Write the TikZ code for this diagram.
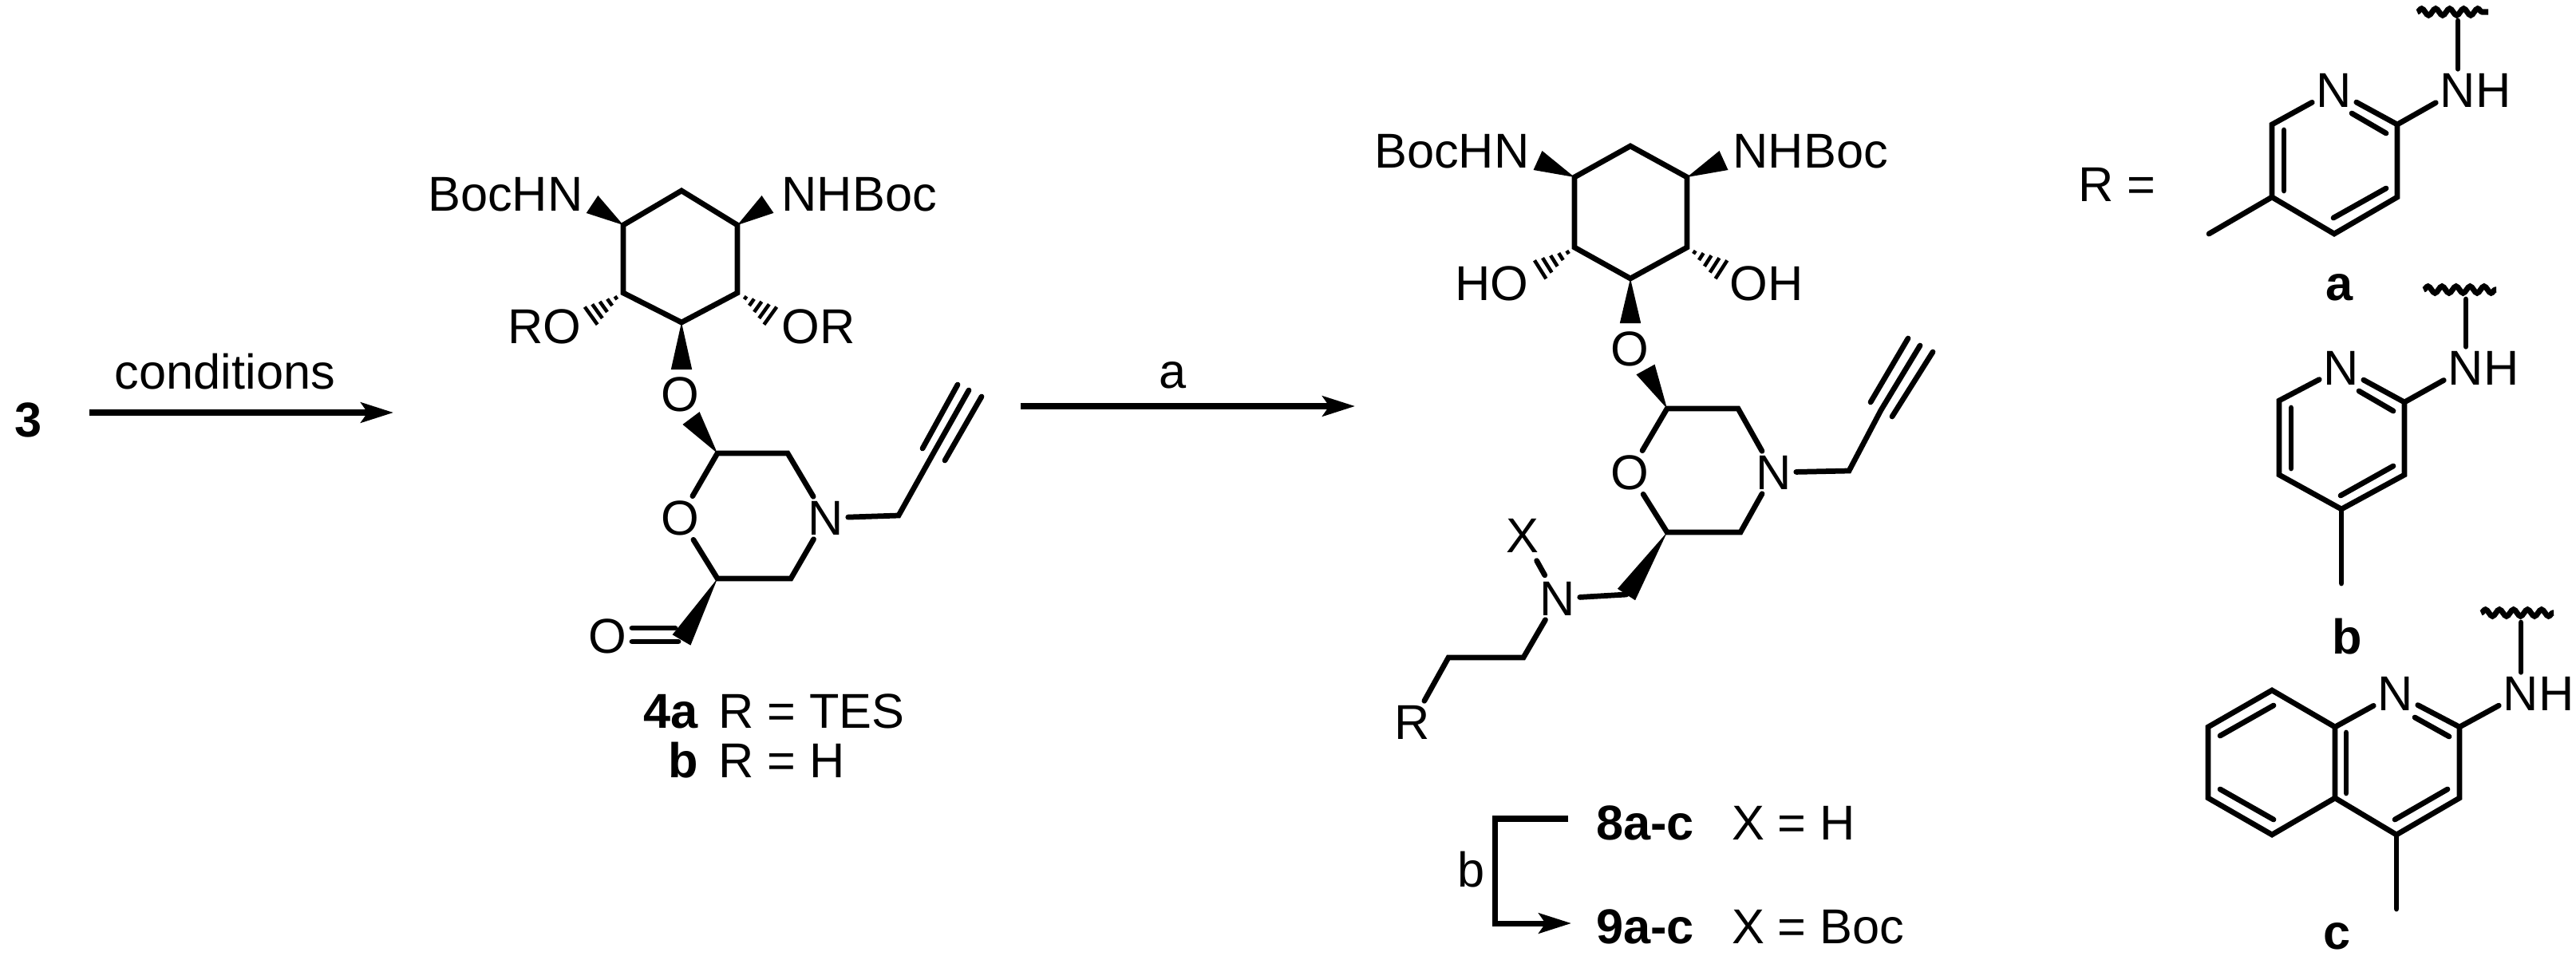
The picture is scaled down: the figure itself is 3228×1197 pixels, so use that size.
\documentclass[tikz,border=0pt]{standalone}
\usepackage{fontspec}
\setmainfont{Liberation Sans}
\usetikzlibrary{calc,arrows.meta,decorations.pathmorphing}
\newcommand{\wedgeb}[3][0.33cm]{\fill ($(#2)$) -- ($(#3)!#1!90:(#2)$) -- ($(#3)!#1!-90:(#2)$) -- cycle;}
\newcommand{\hashb}[2]{\foreach \t/\w in {0.08/0.06cm,0.28/0.13cm,0.48/0.2cm,0.68/0.27cm,0.88/0.34cm}{\draw[hash] ($(#1)!\t!(#2)!\w!90:(#2)$) -- ($(#1)!\t!(#2)!\w!-90:(#2)$);}}
\tikzset{
  txt/.style={font=\fontsize{43.6}{50}\selectfont,inner sep=0pt,outer sep=0pt},
  atom/.style={txt,inner sep=4pt},
  tail/.style={txt,xshift=-4pt,anchor=base west},
  head/.style={txt,xshift=4pt,anchor=base east},
  lab/.style={txt,font=\fontsize{43.6}{50}\selectfont\bfseries},
  bond/.style={line width=4.8pt,line cap=round,line join=miter},
  hash/.style={line width=3.2pt},
  rxn/.style={line width=5pt,-{Stealth[length=29pt,width=18pt,inset=6pt]}},
  squig/.style={line width=5pt,decorate,decoration={snake,amplitude=3pt,segment length=12.5pt}}
}
\begin{document}
\begin{tikzpicture}[x=0.025cm,y=-0.025cm]
\useasboundingbox (0,0) rectangle (3228,1197);

% ---- left: 3 -> 4
\node[lab] (three) at (36,526) {3};
\coordinate (a1s) at (112,517);
\coordinate (a1e) at (493,517);
\draw[rxn] (a1s) -- (a1e);
\node[txt] (cond) at (282,466) {conditions};

% compound 4
\coordinate (pT) at (854,239);
\coordinate (pLT) at (781,282);
\coordinate (pLB) at (781,367);
\coordinate (pB) at (854,404);
\coordinate (pRB) at (924,367);
\coordinate (pRT) at (924,282);
\draw[bond] (pT) -- (pLT) -- (pLB) -- (pB) -- (pRB) -- (pRT) -- cycle;
\coordinate (pNL) at (742,256);
\coordinate (pNR) at (962,256);
\wedgeb{pLT}{pNL}
\wedgeb{pRT}{pNR}
\node[atom,anchor=base east] (pNHl) at (736,264) {N};
\node[head] (pBocl) at (pNHl.base west) {BocH};
\node[atom,anchor=base west] (pNHr) at (974,264) {N};
\node[tail] (pBocr) at (pNHr.base east) {HBoc};
\coordinate (pOLw) at (775,371);
\coordinate (pOLe) at (736,399);
\coordinate (pORw) at (931,371);
\coordinate (pORe) at (970,399);
\hashb{pOLw}{pOLe}
\hashb{pORw}{pORe}
\node[atom,anchor=base east] (pOl) at (734,430) {O};
\node[head] (pRl) at (pOl.base west) {R};
\node[atom,anchor=base west] (pOr) at (974,430) {O};
\node[tail] (pRr) at (pOr.base east) {R};
\node[atom] (pOg) at (852,494) {O};
\coordinate (pWg) at (854,463);
\wedgeb{pB}{pWg}
\coordinate (pC1) at (899,568);
\coordinate (pWh) at (866,524);
\wedgeb{pC1}{pWh}
\coordinate (pC2) at (987,568);
\node[atom] (pN) at (1035,649) {N};
\coordinate (pC3) at (991,725);
\coordinate (pC4) at (899,725);
\node[atom] (pOr2) at (852,649) {O};
\draw[bond] (pC1) -- (pC2) -- (pN) -- (pC3) -- (pC4) -- (pOr2) -- (pC1);
\coordinate (pP1) at (1126,646);
\coordinate (pP2) at (1169,569);
\coordinate (pP3) at (1214,489);
\coordinate (pP2a) at (1156,562);
\coordinate (pP3a) at (1200,482);
\coordinate (pP2b) at (1184,577);
\coordinate (pP3b) at (1230,497);
\draw[bond] (pN) -- (pP1) -- (pP2) -- (pP3);
\draw[bond] (pP2a) -- (pP3a);
\draw[bond] (pP2b) -- (pP3b);
\coordinate (pCHO) at (854,802);
\wedgeb{pC4}{pCHO}
\node[atom] (pOald) at (761,797) {O};
\coordinate (pD1) at (792,787);
\coordinate (pD2) at (846,787);
\coordinate (pD3) at (792,804);
\coordinate (pD4) at (850,804);
\draw[bond] (pD1) -- (pD2);
\draw[bond] (pD3) -- (pD4);
\node[lab,anchor=base east] (l4a) at (875,912) {4a};
\node[txt,anchor=base west] (t4a) at (900,912) {R = TES};
\node[lab,anchor=base east] (l4b) at (875,974) {b};
\node[txt,anchor=base west] (t4b) at (900,974) {R = H};

% ---- arrow a
\coordinate (a2s) at (1279,509);
\coordinate (a2e) at (1698,509);
\draw[rxn] (a2s) -- (a2e);
\node[txt] (cA) at (1470,470) {a};

% compound 8/9
\coordinate (qT) at (2043,183);
\coordinate (qLT) at (1973,222);
\coordinate (qLB) at (1973,310);
\coordinate (qB) at (2043,349);
\coordinate (qRB) at (2114,310);
\coordinate (qRT) at (2114,222);
\draw[bond] (qT) -- (qLT) -- (qLB) -- (qB) -- (qRB) -- (qRT) -- cycle;
\coordinate (qNL) at (1927,201);
\coordinate (qNR) at (2160,201);
\wedgeb{qLT}{qNL}
\wedgeb{qRT}{qNR}
\node[atom,anchor=base east] (qNHl) at (1922,210) {N};
\node[head] (qBocl) at (qNHl.base west) {BocH};
\node[atom,anchor=base west] (qNHr) at (2166,210) {N};
\node[tail] (qBocr) at (qNHr.base east) {HBoc};
\coordinate (qOLw) at (1968,314);
\coordinate (qOLe) at (1925,341);
\coordinate (qORw) at (2120,314);
\coordinate (qORe) at (2162,341);
\hashb{qOLw}{qOLe}
\hashb{qORw}{qORe}
\node[atom,anchor=base east] (qOl) at (1921,376) {O};
\node[head] (qHl) at (qOl.base west) {H};
\node[atom,anchor=base west] (qOr) at (2162,376) {O};
\node[tail] (qHr) at (qOr.base east) {H};
\node[atom] (qOg) at (2042,437) {O};
\coordinate (qWg) at (2043,405);
\wedgeb{qB}{qWg}
\coordinate (qC1) at (2089,512);
\coordinate (qWh) at (2062,463);
\wedgeb{qC1}{qWh}
\coordinate (qC2) at (2178,512);
\node[atom] (qN) at (2223,592) {N};
\coordinate (qC3) at (2181,667);
\coordinate (qC4) at (2089,667);
\node[atom] (qOr2) at (2042,592) {O};
\draw[bond] (qC1) -- (qC2) -- (qN) -- (qC3) -- (qC4) -- (qOr2) -- (qC1);
\coordinate (qP1) at (2317,590);
\coordinate (qP2) at (2357,514);
\coordinate (qP3) at (2406,433);
\coordinate (qP2a) at (2344,504);
\coordinate (qP3a) at (2391,424);
\coordinate (qP2b) at (2371,522);
\coordinate (qP3b) at (2422,441);
\draw[bond] (qN) -- (qP1) -- (qP2) -- (qP3);
\draw[bond] (qP2a) -- (qP3a);
\draw[bond] (qP2b) -- (qP3b);
\coordinate (qCH) at (2038,745);
\wedgeb{qC4}{qCH}
\node[atom] (qNx) at (1952,750) {N};
\coordinate (qS1) at (1909,824);
\coordinate (qS2) at (1815,824);
\node[atom] (qR) at (1770,905) {R};
\node[atom] (qX) at (1908,671) {X};
\draw[bond] (qCH) -- (qNx) -- (qS1) -- (qS2) -- (qR);
\draw[bond,shorten >=4pt,shorten <=2pt] (qNx) -- (qX);
% bracket arrow
\coordinate (br1) at (1965,1026);
\coordinate (br2) at (1873,1026);
\coordinate (br3) at (1873,1157);
\coordinate (br4) at (1969,1157);
\draw[rxn,line join=miter] (br1) -- (br2) -- (br3) -- (br4);
\node[txt] (cB) at (1844,1090) {b};
\node[lab,anchor=base west] (l8) at (2000,1052) {8a-c};
\node[txt,anchor=base west] (t8) at (2170,1052) {X = H};
\node[lab,anchor=base west] (l9) at (2000,1182) {9a-c};
\node[txt,anchor=base west] (t9) at (2170,1182) {X = Boc};

% ---- R =
\node[txt,anchor=base west] (req) at (2604,252) {R =};

% R group a
\node[atom] (aN) at (2925,113) {N};
\coordinate (aC2) at (3004,156);
\coordinate (aC3) at (3004,247);
\coordinate (aC4) at (2925,293);
\coordinate (aC5) at (2847,247);
\coordinate (aC6) at (2847,156);
\coordinate (aMe) at (2768,293);
\draw[bond] (aN) -- (aC2) -- (aC3) -- (aC4) -- (aC5) -- (aC6) -- (aN);
\draw[bond] (aC5) -- (aMe);
\coordinate (ai1) at (2862,163);
\coordinate (ai2) at (2862,239);
\coordinate (ai3) at (2990,236);
\coordinate (ai4) at (2924,273);
\coordinate (ai5) at (2947,142);
\coordinate (ai6) at (2990,167);
\draw[bond] (ai1) -- (ai2);
\draw[bond] (ai3) -- (ai4);
\draw[bond] (ai5) -- (ai6);
\node[atom,anchor=center] (aNH) at (3080,113) {N};
\node[tail] (aH) at (aNH.base east) {H};
\draw[bond] (aC2) -- (aNH);
\coordinate (asq1) at (3029,15);
\coordinate (asq2) at (3118,15);
\coordinate (asqm) at (3080,26);
\draw[squig] (asq1) -- (asq2);
\draw[bond] (asqm) -- (aNH);
\node[lab] (la) at (2932,360) {a};

% R group b
\node[atom] (bN) at (2934,461) {N};
\coordinate (bC2) at (3013,504);
\coordinate (bC3) at (3013,595);
\coordinate (bC4) at (2934,638);
\coordinate (bC5) at (2856,595);
\coordinate (bC6) at (2856,502);
\coordinate (bMe) at (2934,731);
\draw[bond] (bN) -- (bC2) -- (bC3) -- (bC4) -- (bC5) -- (bC6) -- (bN);
\draw[bond] (bC4) -- (bMe);
\coordinate (bi1) at (2871,511);
\coordinate (bi2) at (2871,587);
\coordinate (bi3) at (2999,584);
\coordinate (bi4) at (2933,621);
\coordinate (bi5) at (2956,490);
\coordinate (bi6) at (2999,515);
\draw[bond] (bi1) -- (bi2);
\draw[bond] (bi3) -- (bi4);
\draw[bond] (bi5) -- (bi6);
\node[atom] (bNH) at (3090,461) {N};
\node[tail] (bH) at (bNH.base east) {H};
\draw[bond] (bC2) -- (bNH);
\coordinate (bsq1) at (3037,363);
\coordinate (bsq2) at (3128,363);
\coordinate (bsqm) at (3090,375);
\draw[squig] (bsq1) -- (bsq2);
\draw[bond] (bsqm) -- (bNH);
\node[lab] (lb) at (2941,798) {b};

% R group c
\node[atom] (cN) at (3002,869) {N};
\coordinate (cC2) at (3082,911);
\coordinate (cC3) at (3082,1000);
\coordinate (cC4) at (3003,1046);
\coordinate (cC4a) at (2926,1000);
\coordinate (cC8a) at (2926,911);
\coordinate (cC8) at (2847,865);
\coordinate (cC7) at (2767,911);
\coordinate (cC6) at (2767,1000);
\coordinate (cC5) at (2847,1046);
\coordinate (cMe) at (3003,1139);
\draw[bond] (cN) -- (cC2) -- (cC3) -- (cC4) -- (cC4a) -- (cC8a) -- (cN);
\draw[bond] (cC8a) -- (cC8) -- (cC7) -- (cC6) -- (cC5) -- (cC4a);
\draw[bond] (cC4) -- (cMe);
\coordinate (ci1) at (2940,918);
\coordinate (ci2) at (2940,994);
\coordinate (ci3) at (3067,989);
\coordinate (ci4) at (3001,1027);
\coordinate (ci5) at (3026,899);
\coordinate (ci6) at (3069,923);
\coordinate (ci7) at (2782,922);
\coordinate (ci8) at (2849,884);
\coordinate (ci9) at (2782,989);
\coordinate (ci10) at (2849,1027);
\draw[bond] (ci1) -- (ci2);
\draw[bond] (ci3) -- (ci4);
\draw[bond] (ci5) -- (ci6);
\draw[bond] (ci7) -- (ci8);
\draw[bond] (ci9) -- (ci10);
\node[atom] (cNH) at (3159,869) {N};
\node[tail] (cH) at (cNH.base east) {H};
\draw[bond] (cC2) -- (cNH);
\coordinate (csq1) at (3109,768);
\coordinate (csq2) at (3200,768);
\coordinate (csqm) at (3159,780);
\draw[squig] (csq1) -- (csq2);
\draw[bond] (csqm) -- (cNH);
\node[lab] (lc) at (2929,1173) {c};
\end{tikzpicture}
\end{document}
